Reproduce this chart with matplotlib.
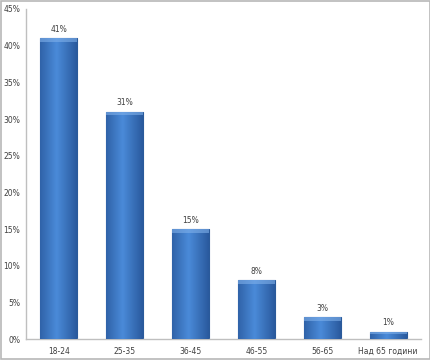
import numpy as np
import matplotlib.pyplot as plt
from matplotlib.patches import Rectangle

categories = ['18-24', '25-35', '36-45', '46-55', '56-65', 'Над 65 години']
values = [41, 31, 15, 8, 3, 1]
yticks = [0, 5, 10, 15, 20, 25, 30, 35, 40, 45]

fig = plt.figure(figsize=(4.31, 3.6), dpi=100)
fig.patch.set_facecolor('white')
fig.add_artist(Rectangle((0.002, 0.002), 0.996, 0.996, transform=fig.transFigure,
                         fill=False, edgecolor='#b8b8b8', linewidth=1.2))

ax = fig.add_axes([0.0603, 0.0583, 0.9167, 0.9167])
x = np.arange(len(categories))
bars = ax.bar(x, values, width=0.56, color='#3a76c4', edgecolor='#2a5a9a', linewidth=0.8, zorder=2)

# horizontal gradient on each bar
grad = np.linspace(0, 1, 64)
grad = 1 - np.abs(grad - 0.45) * 1.6
grad = np.vstack([grad, grad])
cmap = plt.matplotlib.colors.LinearSegmentedColormap.from_list('b', ['#2a5a9e', '#4a8ad8'])
for b in bars:
    x0, w, h = b.get_x(), b.get_width(), b.get_height()
    im = ax.imshow(grad, extent=[x0, x0 + w, 0, h], aspect='auto', cmap=cmap, zorder=3)
    im.set_clip_path(b)
    ax.add_patch(Rectangle((x0, h - min(0.5, h * 0.3)), w, min(0.5, h * 0.3),
                           facecolor='#7fb0ea', edgecolor='none', alpha=0.6, zorder=4))

for xi, v in zip(x, values):
    ax.text(xi, v + 0.6, f'{v}%', ha='center', va='bottom', fontsize=5.5, color='#404040')

ax.set_xlim(-0.5, len(categories) - 0.5)
ax.set_ylim(0, 45)
ax.set_yticks(yticks)
ax.set_yticklabels([f'{t}%' for t in yticks])
ax.set_xticks(x)
ax.set_xticklabels(categories)
ax.tick_params(axis='both', labelsize=5.5, colors='#404040', length=0, pad=6)
ax.tick_params(axis='y', pad=4)
for s in ['top', 'right']:
    ax.spines[s].set_visible(False)
for s in ['left', 'bottom']:
    ax.spines[s].set_color('#bfbfbf')
    ax.spines[s].set_linewidth(1.0)

fig.savefig('out.png', dpi=100)
